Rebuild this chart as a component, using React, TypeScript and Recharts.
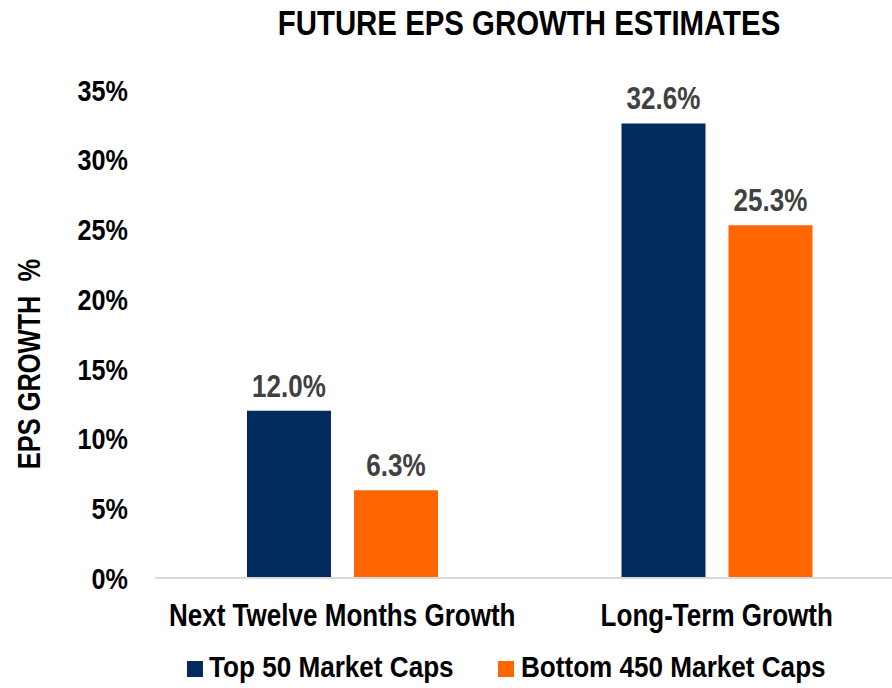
import React from 'react';
import { BarChart, Bar, XAxis, YAxis, LabelList } from 'recharts';

const categories = ['Next Twelve Months Growth', 'Long-Term Growth'];
const top50 = [12.0, 32.6];
const bottom450 = [6.3, 25.3];
const seriesNames = ['Top 50 Market Caps', 'Bottom 450 Market Caps'];
const yTicks = [0, 5, 10, 15, 20, 25, 30, 35];
const title = 'FUTURE EPS GROWTH ESTIMATES';
const yLabel = 'EPS GROWTH  %';

const NAVY = '#002b5c';
const ORANGE = '#ff6600';
const FONT = '"Liberation Sans", Arial, sans-serif';
const SX = 0.84;

const data = categories.map((c, i) => ({ name: c, top: top50[i], bottom: bottom450[i] }));

const YLabel = (props: any) => {
  const vb = props.viewBox || {};
  const cx = 30 + 10;
  const cy = vb.y + vb.height / 2 + 30;
  return (
    <text transform={`translate(${cx},${cy}) rotate(-90) scale(0.82,1)`} textAnchor="middle"
      fill="#000" fontSize={31} fontWeight="bold" fontFamily={FONT} style={{ whiteSpace: 'pre' }}>
      {yLabel}
    </text>
  );
};

const YTick = (props: any) => {
  const { x, y, payload } = props;
  return (
    <text transform={`translate(${x},${y + 10.7}) scale(${SX},1)`} textAnchor="end" fill="#000"
      fontSize={30} fontWeight="bold" fontFamily={FONT}>{`${payload.value}%`}</text>
  );
};

const XTick = (props: any) => {
  const { x, y, payload } = props;
  return (
    <text transform={`translate(${x},${y + 48}) scale(${SX},1)`} textAnchor="middle" fill="#000"
      fontSize={31} fontWeight="bold" fontFamily={FONT}>{payload.value}</text>
  );
};

const BarLabel = (props: any) => {
  const { x, y, width, value } = props;
  const cx = Number(x) + Number(width) / 2;
  return (
    <text transform={`translate(${cx},${Number(y) - 14}) scale(${SX},1)`} textAnchor="middle" fill="#404040"
      fontSize={31} fontWeight="bold" fontFamily={FONT}>{`${Number(value).toFixed(1)}%`}</text>
  );
};

export default function App() {
  return (
    <div style={{ position: 'absolute', left: 0, top: 0, width: 892, height: 688, overflow: 'hidden', background: '#fff', fontFamily: FONT }}>
      <div style={{ position: 'absolute', left: 0, top: 5, width: 1058, textAlign: 'center', fontSize: 35, lineHeight: '35px', fontWeight: 'bold', color: '#000', whiteSpace: 'nowrap', transform: `scaleX(${SX})`, transformOrigin: '529px 0' }}>
        {title}
      </div>
      <BarChart width={904} height={688} data={data} margin={{ top: 90, right: 0, bottom: 80, left: 25 }}
        barSize={84} barGap={23}>
        <XAxis dataKey="name" axisLine={{ stroke: '#d9d9d9', strokeWidth: 2 }} tickLine={false} tickSize={0} tickMargin={0}
          tick={<XTick />} interval={0} />
        <YAxis domain={[0, 35]} ticks={yTicks} width={130} axisLine={false} tickLine={false} tickSize={0} tickMargin={27}
          tick={<YTick />} label={<YLabel />} />
        <Bar dataKey="top" name={seriesNames[0]} fill={NAVY} isAnimationActive={false}>
          <LabelList dataKey="top" content={<BarLabel />} />
        </Bar>
        <Bar dataKey="bottom" name={seriesNames[1]} fill={ORANGE} isAnimationActive={false}>
          <LabelList dataKey="bottom" content={<BarLabel />} />
        </Bar>
      </BarChart>
      <span style={{ position: 'absolute', left: 187, top: 661, width: 16, height: 16, background: NAVY }} />
      <div style={{ position: 'absolute', left: 209, top: 653, fontSize: 29, lineHeight: '29px', fontWeight: 'bold', color: '#000', whiteSpace: 'nowrap', transform: 'scaleX(0.9)', transformOrigin: '0 0' }}>
        {seriesNames[0]}
      </div>
      <span style={{ position: 'absolute', left: 498, top: 661, width: 16, height: 16, background: ORANGE }} />
      <div style={{ position: 'absolute', left: 521, top: 653, fontSize: 29, lineHeight: '29px', fontWeight: 'bold', color: '#000', whiteSpace: 'nowrap', transform: 'scaleX(0.9)', transformOrigin: '0 0' }}>
        {seriesNames[1]}
      </div>
    </div>
  );
}
